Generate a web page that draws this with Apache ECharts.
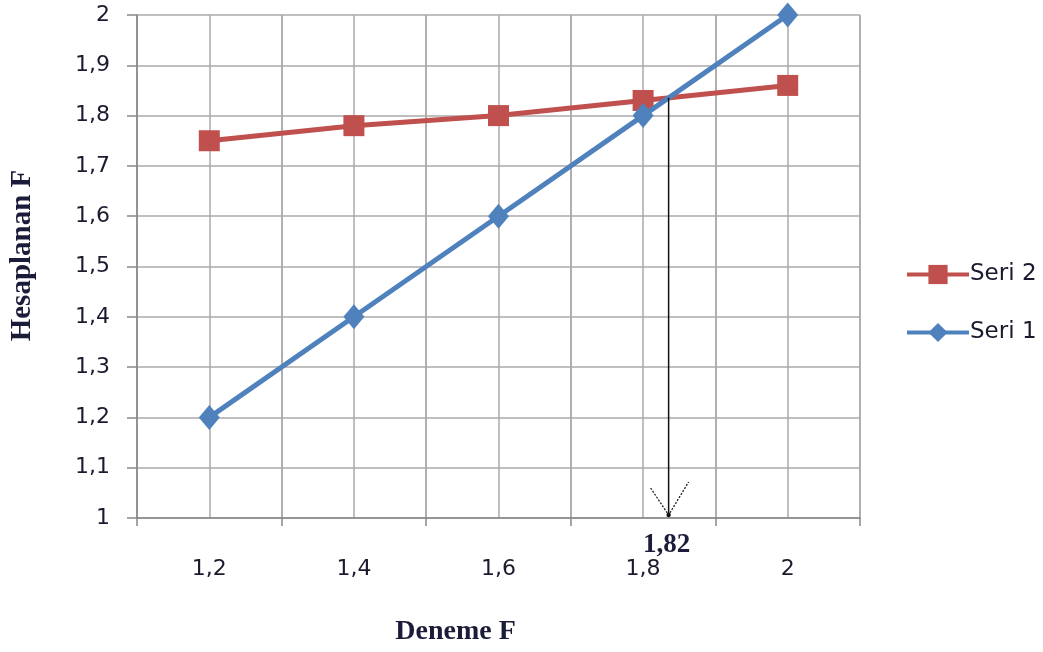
<!DOCTYPE html>
<html>
<head>
<meta charset="utf-8">
<script src="https://cdn.jsdelivr.net/npm/echarts@6/dist/echarts.min.js"></script>
<style>html,body{margin:0;padding:0;background:#fff}#c{width:1043px;height:652px}</style>
</head>
<body>
<div id="c"></div>
<script>
var categories = ['1,2', '1,4', '1,6', '1,8', '2'];
var seri2 = [1.75, 1.78, 1.80, 1.83, 1.86];
var seri1 = [1.2, 1.4, 1.6, 1.8, 2.0];
var yTicks = { min: 1, max: 2, interval: 0.1 };
var crossLabel = '1,82';

var labelFont = '"DejaVu Sans", sans-serif';
var titleFont = '"Liberation Serif", "DejaVu Serif", serif';

var chart = echarts.init(document.getElementById('c'), null, { renderer: 'canvas' });
var option = {
  backgroundColor: '#fff',
  animation: false,
  grid: { left: 137, right: 183, top: 15, bottom: 134, containLabel: false },
  legend: {
    data: ['Seri 2', 'Seri 1'],
    orient: 'vertical',
    left: 900,
    top: 258,
    itemWidth: 62,
    itemHeight: 24,
    itemGap: 35,
    lineStyle: { width: 4 },
    textStyle: { fontFamily: labelFont, fontSize: 23, color: '#1a1a2e', padding: [0, 0, 0, -4] }
  },
  xAxis: [{
    type: 'category',
    data: categories,
    boundaryGap: true,
    axisLine: { lineStyle: { color: '#888', width: 1.5 } },
    axisTick: { show: true, length: 8, lineStyle: { color: '#888', width: 1.5 } },
    axisLabel: { fontFamily: labelFont, fontSize: 22, color: '#1a1a2e', margin: 40 },
    splitLine: { show: true, lineStyle: { color: '#aaa', width: 1.5 } },
    name: 'Deneme F',
    nameLocation: 'middle',
    nameGap: 100,
    nameTextStyle: { fontFamily: titleFont, fontWeight: 'bold', fontSize: 28, color: '#1b1b3a', padding: [0, 86, 0, 0] }
  }, {
    type: 'value',
    min: 0, max: categories.length * 2, interval: 1,
    show: true,
    position: 'top',
    axisLine: { show: false }, axisTick: { show: false }, axisLabel: { show: false },
    splitLine: { show: true, lineStyle: { color: '#aaa', width: 1.5 } }
  }],
  yAxis: {
    type: 'value',
    min: yTicks.min, max: yTicks.max, interval: yTicks.interval,
    axisLine: { show: true, lineStyle: { color: '#888', width: 1.5 } },
    axisTick: { show: true, length: 10, lineStyle: { color: '#888', width: 1.5 } },
    axisLabel: {
      fontFamily: labelFont, fontSize: 22, color: '#1a1a2e', margin: 27,
      formatter: function (v) { return (Math.round(v * 10) / 10).toString().replace('.', ','); }
    },
    splitLine: { show: true, lineStyle: { color: '#aaa', width: 1.5 } },
    name: 'Hesaplanan F',
    nameLocation: 'middle',
    nameGap: 100,
    nameRotate: 90,
    nameTextStyle: { fontFamily: titleFont, fontWeight: 'bold', fontSize: 29, color: '#1b1b3a', padding: [0, 0, 0, 22] }
  },
  series: [{
    name: 'Seri 2',
    type: 'line',
    data: seri2,
    symbol: 'rect',
    symbolSize: 21,
    lineStyle: { color: '#c0504d', width: 5 },
    itemStyle: { color: '#c0504d' },
    z: 3
  }, {
    name: 'Seri 1',
    type: 'line',
    data: seri1,
    symbol: 'diamond',
    symbolSize: [21, 25],
    lineStyle: { color: '#4f81bd', width: 5 },
    itemStyle: { color: '#4f81bd' },
    z: 4
  }]
};
chart.setOption(option);

// intersection of the two segments, computed from the data
var ix = null, iy = null;
for (var i = 0; i < seri1.length - 1; i++) {
  var d0 = seri1[i] - seri2[i], d1 = seri1[i + 1] - seri2[i + 1];
  if (d0 <= 0 && d1 >= 0 && d0 !== d1) {
    var t = -d0 / (d1 - d0);
    ix = i + t;
    iy = seri1[i] + t * (seri1[i + 1] - seri1[i]);
    break;
  }
}
if (ix !== null) {
  var x = chart.convertToPixel({ xAxisIndex: 1 }, 2 * ix + 1);
  var yTop = chart.convertToPixel({ yAxisIndex: 0 }, iy);
  var yBot = chart.convertToPixel({ yAxisIndex: 0 }, yTicks.min);
  chart.setOption({
    graphic: [
      { type: 'line', shape: { x1: x, y1: yTop, x2: x, y2: yBot - 2 }, style: { stroke: '#111', lineWidth: 1.5 }, z: 10 },
      { type: 'polyline', shape: { points: [[x - 18, yBot - 30], [x, yBot - 3], [x + 20, yBot - 36]] },
        style: { stroke: '#222', lineWidth: 1.3, lineDash: [2, 1.5], fill: null }, z: 10 },
      { type: 'circle', shape: { cx: x, cy: yBot - 3, r: 2.2 }, style: { fill: '#111' }, z: 10 },
      { type: 'text', x: x - 2, y: yBot + 27,
        style: { text: crossLabel, font: 'bold 27px ' + titleFont, fill: '#1b1b3a', align: 'center', verticalAlign: 'middle' }, z: 10 }
    ]
  });
}
</script>
</body>
</html>
